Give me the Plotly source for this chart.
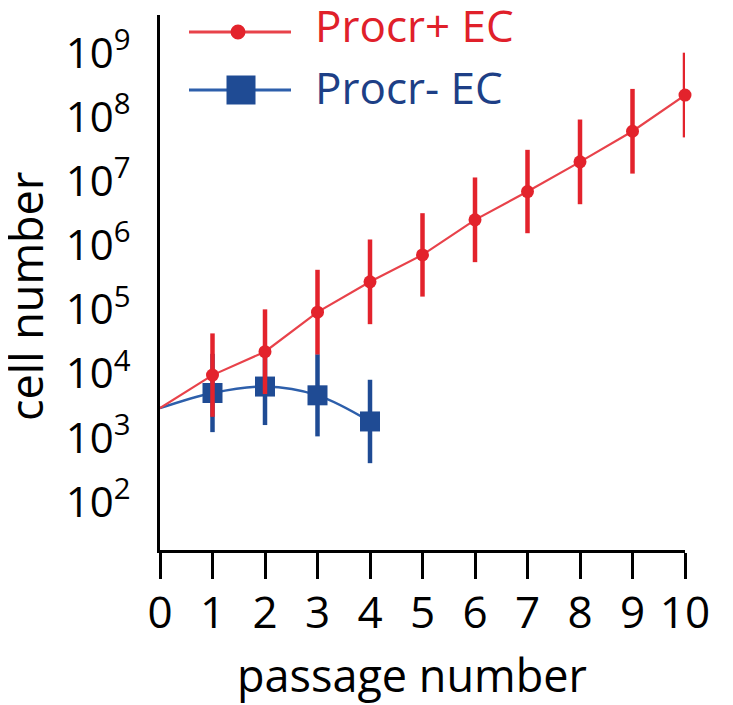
import plotly.graph_objects as go

# ---------------- data ----------------
start_passage = 0
start_cells = 2.9e3            # common starting cell number at passage 0

red_name = "Procr+ EC"
red_passage = [1, 2, 3, 4, 5, 6, 7, 8, 9, 10]
red_cells = [9.5e3, 2.2e4, 9.1e4, 2.7e5, 7.1e5, 2.5e6, 6.9e6, 2.0e7, 6.0e7, 2.2e8]
red_err_dex = [0.65, 0.66, 0.66, 0.66, 0.65, 0.66, 0.65, 0.66, 0.66, 0.66]  # +/- log10 units

blue_name = "Procr- EC"
blue_passage = [1, 2, 3, 4]
blue_cells = [5.0e3, 6.3e3, 4.6e3, 1.8e3]
blue_err_dex = [0.61, 0.60, 0.64, 0.65]

x_ticks = list(range(0, 11))
y_tick_exps = [2, 3, 4, 5, 6, 7, 8, 9]

# ---------------- styles ----------------
RED = "#e3232c"
RED_LINE = "#e8424a"
BLUE = "#1f4b94"
BLUE_LINE = "#2d5fab"
RED_TEXT = "#e0202a"
BLUE_TEXT = "#1d3f86"
FONT = "Open Sans"

W, H = 733, 705
OFF = 8  # default page margin of the html body
# plot area in page pixels: x 160..685, y 15..550
ML = 160 - OFF
MT = 15 - OFF
MR = W - (685 - OFF)
MB = H - (550 - OFF)
PW = W - ML - MR
PH = H - MT - MB


def px_x(px):
    return (px - OFF - ML) / PW


def px_y(py):
    return (MT + PH - (py - OFF)) / PH


def up(vals, dex):
    return [v * (10 ** d - 1) for v, d in zip(vals, dex)]


def down(vals, dex):
    return [v * (1 - 10 ** (-d)) for v, d in zip(vals, dex)]


fig = go.Figure()

# blue curve (smooth) from the starting point
fig.add_trace(go.Scatter(
    x=[start_passage] + blue_passage, y=[start_cells] + blue_cells,
    mode="lines", line=dict(color=BLUE_LINE, width=2.5, shape="spline", smoothing=1.0),
    showlegend=False, hoverinfo="skip"))
fig.add_trace(go.Scatter(
    x=blue_passage, y=blue_cells, mode="markers", name=blue_name,
    marker=dict(symbol="square", size=20, color=BLUE),
    error_y=dict(type="data", symmetric=False, array=up(blue_cells, blue_err_dex),
                 arrayminus=down(blue_cells, blue_err_dex),
                 color=BLUE, thickness=4.5, width=0),
    cliponaxis=False, showlegend=False))

# red line from the starting point
fig.add_trace(go.Scatter(
    x=[start_passage] + red_passage, y=[start_cells] + red_cells,
    mode="lines", line=dict(color=RED_LINE, width=2.2),
    showlegend=False, hoverinfo="skip"))
fig.add_trace(go.Scatter(
    x=red_passage, y=red_cells, mode="markers", name=red_name,
    marker=dict(symbol="circle", size=13, color=RED),
    error_y=dict(type="data", symmetric=False, array=up(red_cells, red_err_dex),
                 arrayminus=down(red_cells, red_err_dex),
                 color=RED, thickness=4.5, width=0),
    cliponaxis=False, showlegend=False))

# ---------------- custom legend (long line samples) ----------------
shapes = []
annotations = []
legend_items = [
    # name, line colour, marker colour, symbol, marker px, line y, text y, text colour
    (red_name, RED_LINE, RED, "circle", 15, 32, 25, RED_TEXT),
    (blue_name, BLUE_LINE, BLUE, "square", 29, 90, 87, BLUE_TEXT),
]
for name, lcol, mcol, sym, msize, py, ty, tcol in legend_items:
    shapes.append(dict(type="line", xref="paper", yref="paper",
                       x0=px_x(189), x1=px_x(291), y0=px_y(py), y1=px_y(py),
                       line=dict(color=lcol, width=3)))
    cx = 238 if sym == "circle" else 241
    shapes.append(dict(type="circle" if sym == "circle" else "rect",
                       xref="paper", yref="paper",
                       x0=px_x(cx - msize / 2), x1=px_x(cx + msize / 2),
                       y0=px_y(py + msize / 2), y1=px_y(py - msize / 2),
                       fillcolor=mcol, line=dict(width=0)))
    annotations.append(dict(text=name, xref="paper", yref="paper",
                            x=px_x(313), y=px_y(ty), xanchor="left", yanchor="middle",
                            showarrow=False, font=dict(family=FONT, size=44, color=tcol)))

# axis titles
annotations.append(dict(text="passage number", xref="paper", yref="paper",
                        x=px_x(412), y=px_y(674), xanchor="center", yanchor="middle",
                        showarrow=False, font=dict(family=FONT, size=45, color="black")))
annotations.append(dict(text="cell number", xref="paper", yref="paper",
                        x=px_x(25), y=px_y(297), xanchor="center", yanchor="middle",
                        textangle=-90, showarrow=False,
                        font=dict(family=FONT, size=45, color="black")))

fig.update_layout(
    width=W, height=H,
    margin=dict(l=ML, r=MR, t=MT, b=MB, autoexpand=False),
    paper_bgcolor="white", plot_bgcolor="white",
    showlegend=False,
    shapes=shapes, annotations=annotations,
    font=dict(family=FONT, color="black"),
    xaxis=dict(
        range=[0, 10], tickvals=x_ticks, ticktext=[str(t) for t in x_ticks],
        ticks="outside", ticklen=26, tickwidth=3, tickcolor="black",
        showline=True, linewidth=3, linecolor="black",
        showgrid=False, zeroline=False, automargin=False,
        tickfont=dict(family=FONT, size=44, color="black"),
        ticklabelstandoff=-4,
    ),
    yaxis=dict(
        type="log", range=[1.252, 9.59],
        tickvals=[10 ** e for e in y_tick_exps],
        ticktext=["10<sup>%d</sup>" % e for e in y_tick_exps],
        ticks="", showline=True, linewidth=3, linecolor="black",
        showgrid=False, zeroline=False, automargin=False,
        tickfont=dict(family=FONT, size=42, color="black"),
        ticklabelstandoff=18,
    ),
)

fig.write_html("out.html")
